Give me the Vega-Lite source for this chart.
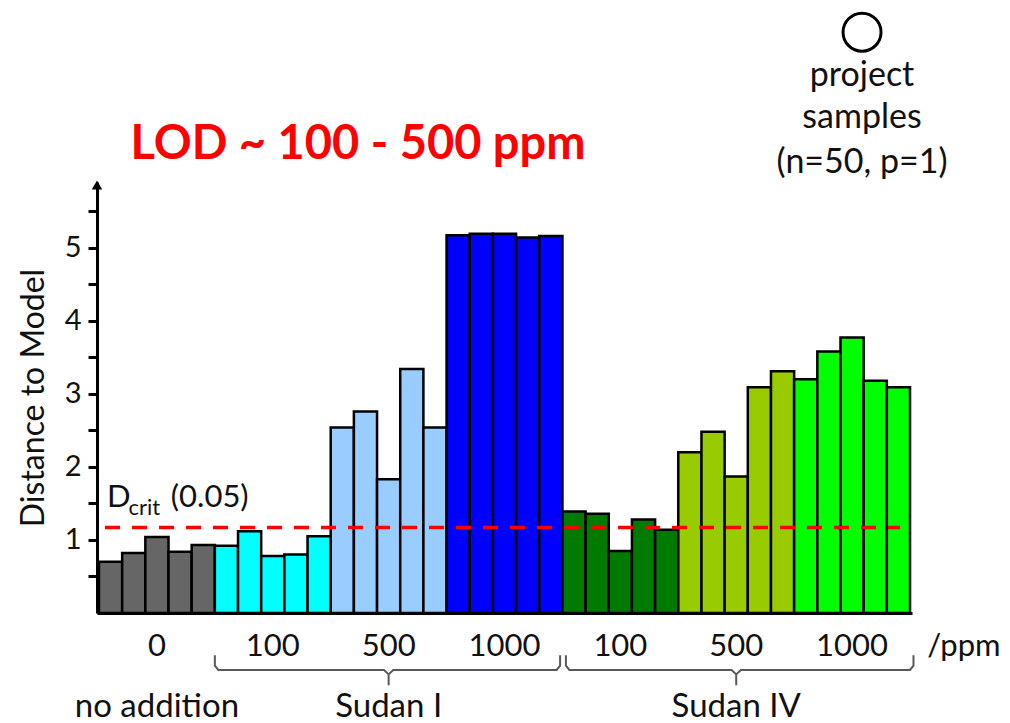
{
  "$schema": "https://vega.github.io/schema/vega-lite/v6.json",
  "width": 815,
  "height": 431,
  "autosize": "none",
  "padding": {"left": 97, "top": 182, "right": 98, "bottom": 110},
  "background": "white",
  "config": {"view": {"stroke": null}, "font": "Lato", "text": {"font": "Lato"}},
  "datasets": {
    "bars": [
      {"sample": 1, "group": "none", "d": 0.70},
      {"sample": 2, "group": "none", "d": 0.82},
      {"sample": 3, "group": "none", "d": 1.04},
      {"sample": 4, "group": "none", "d": 0.84},
      {"sample": 5, "group": "none", "d": 0.93},
      {"sample": 6, "group": "S1-100", "d": 0.92},
      {"sample": 7, "group": "S1-100", "d": 1.12},
      {"sample": 8, "group": "S1-100", "d": 0.78},
      {"sample": 9, "group": "S1-100", "d": 0.80},
      {"sample": 10, "group": "S1-100", "d": 1.05},
      {"sample": 11, "group": "S1-500", "d": 2.54},
      {"sample": 12, "group": "S1-500", "d": 2.76},
      {"sample": 13, "group": "S1-500", "d": 1.83},
      {"sample": 14, "group": "S1-500", "d": 3.34},
      {"sample": 15, "group": "S1-500", "d": 2.54},
      {"sample": 16, "group": "S1-1000", "d": 5.17},
      {"sample": 17, "group": "S1-1000", "d": 5.19},
      {"sample": 18, "group": "S1-1000", "d": 5.19},
      {"sample": 19, "group": "S1-1000", "d": 5.14},
      {"sample": 20, "group": "S1-1000", "d": 5.16},
      {"sample": 21, "group": "S4-100", "d": 1.39},
      {"sample": 22, "group": "S4-100", "d": 1.36},
      {"sample": 23, "group": "S4-100", "d": 0.85},
      {"sample": 24, "group": "S4-100", "d": 1.28},
      {"sample": 25, "group": "S4-100", "d": 1.14},
      {"sample": 26, "group": "S4-500", "d": 2.20},
      {"sample": 27, "group": "S4-500", "d": 2.48},
      {"sample": 28, "group": "S4-500", "d": 1.87},
      {"sample": 29, "group": "S4-500", "d": 3.09},
      {"sample": 30, "group": "S4-500", "d": 3.31},
      {"sample": 31, "group": "S4-1000", "d": 3.20},
      {"sample": 32, "group": "S4-1000", "d": 3.58},
      {"sample": 33, "group": "S4-1000", "d": 3.77},
      {"sample": 34, "group": "S4-1000", "d": 3.18},
      {"sample": 35, "group": "S4-1000", "d": 3.09}
    ],
    "dcrit": [{"x": 0.26, "x2": 34.57, "y": 1.17}],
    "conc": [
      {"x": 2.5, "y": -0.59, "label": "0"},
      {"x": 7.5, "y": -0.59, "label": "100"},
      {"x": 12.5, "y": -0.59, "label": "500"},
      {"x": 17.5, "y": -0.59, "label": "1000"},
      {"x": 22.5, "y": -0.59, "label": "100"},
      {"x": 27.5, "y": -0.59, "label": "500"},
      {"x": 32.5, "y": -0.59, "label": "1000"}
    ],
    "unit": [{"x": 35.74, "y": -0.59, "label": "/ppm"}],
    "compounds": [
      {"x": 2.5, "y": -1.42, "label": "no addition"},
      {"x": 12.5, "y": -1.42, "label": "Sudan I"},
      {"x": 27.5, "y": -1.42, "label": "Sudan IV"}
    ],
    "braces": [
      {"brace": "I", "o": 1, "x": 5.0, "y": -0.58},
      {"brace": "I", "o": 2, "x": 5.0, "y": -0.72},
      {"brace": "I", "o": 3, "x": 5.15, "y": -0.78},
      {"brace": "I", "o": 4, "x": 12.3, "y": -0.78},
      {"brace": "I", "o": 5, "x": 12.5, "y": -0.84},
      {"brace": "I", "o": 6, "x": 12.5, "y": -0.99},
      {"brace": "I", "o": 7, "x": 12.5, "y": -0.84},
      {"brace": "I", "o": 8, "x": 12.7, "y": -0.78},
      {"brace": "I", "o": 9, "x": 19.75, "y": -0.78},
      {"brace": "I", "o": 10, "x": 19.9, "y": -0.72},
      {"brace": "I", "o": 11, "x": 19.9, "y": -0.58},
      {"brace": "IV", "o": 1, "x": 20.15, "y": -0.58},
      {"brace": "IV", "o": 2, "x": 20.15, "y": -0.72},
      {"brace": "IV", "o": 3, "x": 20.3, "y": -0.78},
      {"brace": "IV", "o": 4, "x": 27.3, "y": -0.78},
      {"brace": "IV", "o": 5, "x": 27.5, "y": -0.84},
      {"brace": "IV", "o": 6, "x": 27.5, "y": -0.99},
      {"brace": "IV", "o": 7, "x": 27.5, "y": -0.84},
      {"brace": "IV", "o": 8, "x": 27.7, "y": -0.78},
      {"brace": "IV", "o": 9, "x": 35.0, "y": -0.78},
      {"brace": "IV", "o": 10, "x": 35.15, "y": -0.72},
      {"brace": "IV", "o": 11, "x": 35.15, "y": -0.58}
    ],
    "title": [{"x": 11.18, "y": 6.21, "label": "LOD ~ 100 - 500 ppm"}],
    "legendText": [
      {"x": 32.93, "y": 7.21, "label": "project"},
      {"x": 32.93, "y": 6.64, "label": "samples"},
      {"x": 32.93, "y": 6.03, "label": "(n=50, p=1)"}
    ],
    "legendSymbol": [{"x": 32.93, "y": 7.95}],
    "arrow": [{"x": -0.086, "y": 5.86}],
    "dMain": [{"x": 0.35, "y": 1.45, "label": "D"}, {"x": 3.1, "y": 1.45, "label": "(0.05)"}],
    "dSub": [{"x": 1.27, "y": 1.34, "label": "crit"}]
  },
  "resolve": {"scale": {"x": "independent"}, "axis": {"x": "independent"}},
  "layer": [
    {
      "data": {"name": "bars"},
      "mark": {"type": "bar", "stroke": "black", "strokeWidth": 2.5},
      "encoding": {
        "x": {"field": "sample", "type": "ordinal", "sort": null,
              "scale": {"paddingInner": 0, "paddingOuter": 0.086},
              "axis": {"labels": false, "ticks": false, "title": null, "domainWidth": 3, "domainColor": "black"}},
        "y": {"field": "d", "type": "quantitative",
              "scale": {"domain": [0, 5.9], "nice": false},
              "axis": {"values": [0.5, 1, 1.5, 2, 2.5, 3, 3.5, 4, 4.5, 5, 5.5],
                       "labelExpr": "datum.value % 1 == 0 ? format(datum.value, 'd') : ''",
                       "labelOverlap": false,
                       "grid": false, "domainWidth": 3, "domainColor": "black",
                       "tickColor": "black", "tickWidth": 3, "tickSize": 9,
                       "labelFont": "Lato", "labelFontSize": 29, "labelColor": "#111", "labelPadding": 7,
                       "title": "Distance to Model", "titleFont": "Lato", "titleFontSize": 32,
                       "titleFontWeight": "normal", "titleColor": "#111", "titlePadding": 14}},
        "color": {"field": "group", "type": "nominal", "legend": null,
                  "scale": {"domain": ["none", "S1-100", "S1-500", "S1-1000", "S4-100", "S4-500", "S4-1000"],
                            "range": ["#666666", "#00FFFF", "#99CCFF", "#0000FF", "#007A00", "#99CC00", "#00FF00"]}}
      }
    },
    {
      "data": {"name": "dcrit"},
      "mark": {"type": "rule", "color": "#FF0000", "strokeWidth": 3.5, "strokeDash": [15, 12]},
      "encoding": {
        "x": {"field": "x", "type": "quantitative", "scale": {"domain": [-0.086, 35.086], "nice": false, "zero": false}, "axis": null},
        "x2": {"field": "x2"},
        "y": {"field": "y", "type": "quantitative", "scale": {"domain": [0, 5.9], "nice": false}}
      }
    },
    {
      "data": {"name": "braces"},
      "mark": {"type": "line", "color": "#595959", "strokeWidth": 2},
      "encoding": {
        "x": {"field": "x", "type": "quantitative", "scale": {"domain": [-0.086, 35.086], "nice": false, "zero": false}, "axis": null},
        "y": {"field": "y", "type": "quantitative", "scale": {"domain": [0, 5.9], "nice": false}},
        "detail": {"field": "brace"},
        "order": {"field": "o"}
      }
    },
    {
      "data": {"name": "arrow"},
      "mark": {"type": "point", "shape": "triangle-up", "filled": true, "color": "black", "size": 110, "opacity": 1},
      "encoding": {
        "x": {"field": "x", "type": "quantitative", "scale": {"domain": [-0.086, 35.086], "nice": false, "zero": false}, "axis": null},
        "y": {"field": "y", "type": "quantitative", "scale": {"domain": [0, 5.9], "nice": false}}
      }
    },
    {
      "data": {"name": "legendSymbol"},
      "mark": {"type": "point", "shape": "circle", "filled": false, "stroke": "black", "strokeWidth": 3, "size": 1444, "opacity": 1},
      "encoding": {
        "x": {"field": "x", "type": "quantitative", "scale": {"domain": [-0.086, 35.086], "nice": false, "zero": false}, "axis": null},
        "y": {"field": "y", "type": "quantitative", "scale": {"domain": [0, 5.9], "nice": false}}
      }
    },
    {
      "data": {"name": "conc"},
      "mark": {"type": "text", "font": "Lato", "fontSize": 31, "color": "#111", "align": "center", "baseline": "alphabetic"},
      "encoding": {
        "x": {"field": "x", "type": "quantitative", "scale": {"domain": [-0.086, 35.086], "nice": false, "zero": false}, "axis": null},
        "y": {"field": "y", "type": "quantitative", "scale": {"domain": [0, 5.9], "nice": false}},
        "text": {"field": "label"}
      }
    },
    {
      "data": {"name": "unit"},
      "mark": {"type": "text", "font": "Lato", "fontSize": 31, "color": "#111", "align": "left", "baseline": "alphabetic"},
      "encoding": {
        "x": {"field": "x", "type": "quantitative", "scale": {"domain": [-0.086, 35.086], "nice": false, "zero": false}, "axis": null},
        "y": {"field": "y", "type": "quantitative", "scale": {"domain": [0, 5.9], "nice": false}},
        "text": {"field": "label"}
      }
    },
    {
      "data": {"name": "compounds"},
      "mark": {"type": "text", "font": "Lato", "fontSize": 33, "color": "#111", "align": "center", "baseline": "alphabetic"},
      "encoding": {
        "x": {"field": "x", "type": "quantitative", "scale": {"domain": [-0.086, 35.086], "nice": false, "zero": false}, "axis": null},
        "y": {"field": "y", "type": "quantitative", "scale": {"domain": [0, 5.9], "nice": false}},
        "text": {"field": "label"}
      }
    },
    {
      "data": {"name": "title"},
      "mark": {"type": "text", "font": "Lato", "fontSize": 47, "fontWeight": "bold", "color": "#FF0000", "align": "center", "baseline": "alphabetic"},
      "encoding": {
        "x": {"field": "x", "type": "quantitative", "scale": {"domain": [-0.086, 35.086], "nice": false, "zero": false}, "axis": null},
        "y": {"field": "y", "type": "quantitative", "scale": {"domain": [0, 5.9], "nice": false}},
        "text": {"field": "label"}
      }
    },
    {
      "data": {"name": "legendText"},
      "mark": {"type": "text", "font": "Lato", "fontSize": 34, "color": "#111", "align": "center", "baseline": "alphabetic"},
      "encoding": {
        "x": {"field": "x", "type": "quantitative", "scale": {"domain": [-0.086, 35.086], "nice": false, "zero": false}, "axis": null},
        "y": {"field": "y", "type": "quantitative", "scale": {"domain": [0, 5.9], "nice": false}},
        "text": {"field": "label"}
      }
    },
    {
      "data": {"name": "dMain"},
      "mark": {"type": "text", "font": "Lato", "fontSize": 31, "color": "#111", "align": "left", "baseline": "alphabetic"},
      "encoding": {
        "x": {"field": "x", "type": "quantitative", "scale": {"domain": [-0.086, 35.086], "nice": false, "zero": false}, "axis": null},
        "y": {"field": "y", "type": "quantitative", "scale": {"domain": [0, 5.9], "nice": false}},
        "text": {"field": "label"}
      }
    },
    {
      "data": {"name": "dSub"},
      "mark": {"type": "text", "font": "Lato", "fontSize": 22, "color": "#111", "align": "left", "baseline": "alphabetic"},
      "encoding": {
        "x": {"field": "x", "type": "quantitative", "scale": {"domain": [-0.086, 35.086], "nice": false, "zero": false}, "axis": null},
        "y": {"field": "y", "type": "quantitative", "scale": {"domain": [0, 5.9], "nice": false}},
        "text": {"field": "label"}
      }
    }
  ]
}
